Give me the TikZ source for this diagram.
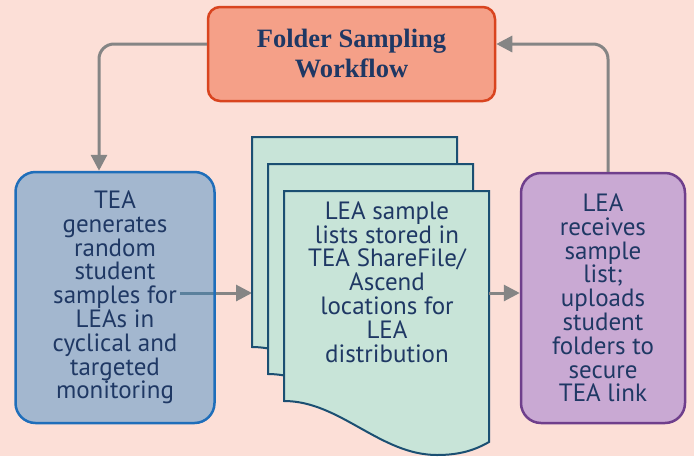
\documentclass[tikz,border=0pt]{standalone}
\usepackage{fontspec}
\setmainfont{Liberation Serif}
\newfontfamily\bodyfont{PT Sans}
\usetikzlibrary{arrows.meta}
\usetikzlibrary{backgrounds}
\definecolor{bgpink}{HTML}{FCDFD7}
\definecolor{navy}{HTML}{1F3864}
\definecolor{titlefill}{HTML}{F5A088}
\definecolor{titleline}{HTML}{D9441F}
\definecolor{teafill}{RGB}{30,125,195}
\definecolor{tealine}{HTML}{1F6EBA}
\definecolor{leafill}{HTML}{C9A9D3}
\definecolor{lealine}{HTML}{6F3F8C}
\definecolor{pagefill}{HTML}{C8E4D8}
\definecolor{pageline}{HTML}{1B4F72}
\definecolor{flowgray}{HTML}{858585}

\begin{document}
\begin{tikzpicture}[x=1pt,y=-1pt,
  box/.style={draw, rounded corners=20pt, line width=2.5pt, align=center,
    text=navy, inner sep=0pt},
  textn/.style={font=\bodyfont\fontsize{25}{23.8}\selectfont, text=navy, align=center},
  page/.style={draw=pageline, fill=pagefill, line width=2pt},
  flow/.style={draw=flowgray, line width=3pt, rounded corners=15pt,
    -{Triangle[length=16pt,width=16pt]}}]
  \useasboundingbox (0,0) rectangle (694,456);
  \node[box, fill=titlefill, draw=titleline, rounded corners=12pt,
    minimum width=287pt, minimum height=94pt,
    font=\bfseries\fontsize{26.5}{30}\selectfont] (title) at (351.5,54)
    {Folder Sampling\\Workflow};
  \node[box, textn, fill=teafill, fill opacity=0.4, text opacity=1, draw=tealine,
    minimum width=199pt, minimum height=251pt] (tea) at (115,297.5)
    {TEA\\generates\\random\\student\\samples for\\LEAs in\\cyclical and\\targeted\\monitoring};
  \node[box, textn, fill=leafill, draw=lealine,
    minimum width=164pt, minimum height=250pt] (lea) at (603,298)
    {LEA\\receives\\sample\\list;\\uploads\\student\\folders to\\secure\\TEA link};
  \foreach \dx/\dy in {0/0,16/27,32/54}
    \draw[page, shift={(252+\dx,137+\dy)}] (0,0) -- (205,0) -- (205,251)
      .. controls (191,259) and (176,264) .. (153,264)
      .. controls (96,264) and (56,210) .. (0,210) -- cycle;
  \node[textn] (lists) at (387,282)
    {LEA sample\\lists stored in\\TEA ShareFile/\\Ascend\\locations for\\LEA\\distribution};
  \coordinate (backw) at (252,293);
  \coordinate (fronte) at (489,293);
  \draw[flow] ([yshift=10pt]title.west) -| ([xshift=-16pt]tea.north);
  \draw[flow] ([xshift=5pt]lea.north) |- ([yshift=10pt]title.east);
  \draw[flow] (fronte) -- (lea.west |- fronte);
  \begin{scope}[on background layer]
    \fill[bgpink] (0,0) rectangle (694,456);
    \draw[flow] ([xshift=-36pt,yshift=4.5pt]tea.east) -- (backw);
  \end{scope}
\end{tikzpicture}
\end{document}
